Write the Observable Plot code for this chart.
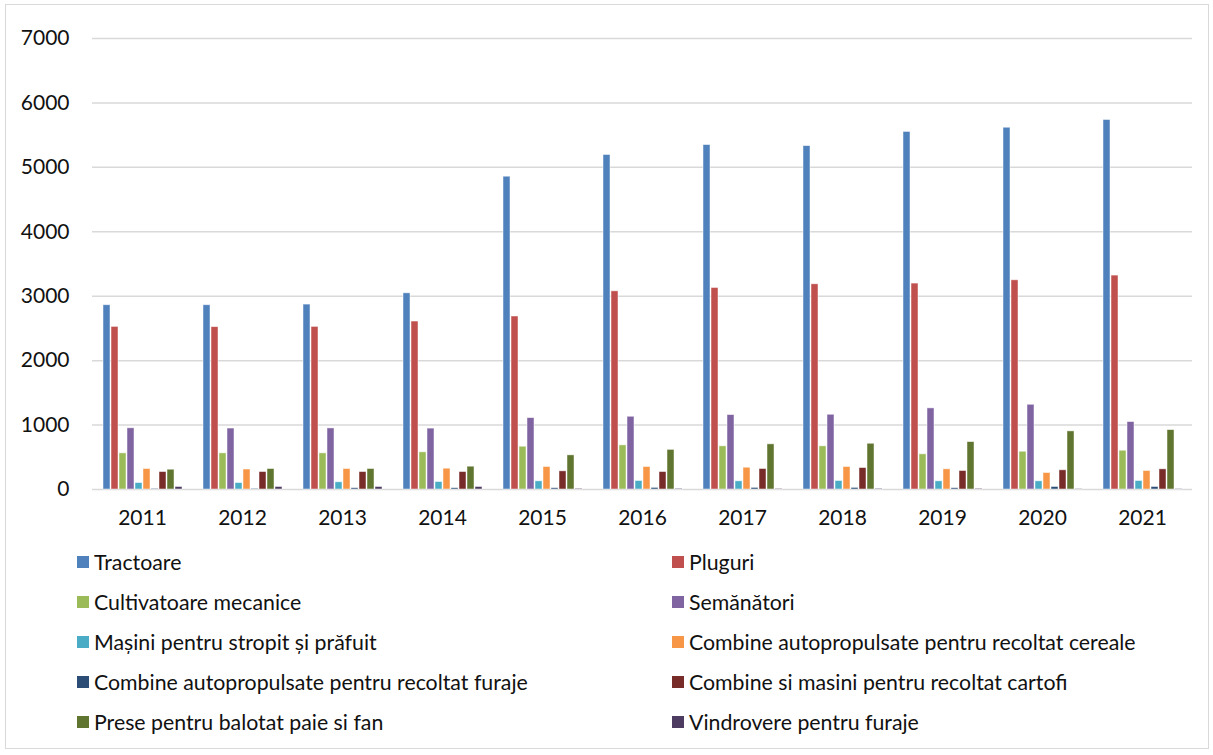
<!DOCTYPE html>
<html><head><meta charset="utf-8">
<script src="https://cdn.jsdelivr.net/npm/d3@7"></script>
<script src="https://cdn.jsdelivr.net/npm/@observablehq/plot@0.6"></script>
<style>
body{margin:0;background:#fff;font-family:Lato,"Open Sans",sans-serif;}
#frame{position:absolute;left:5px;top:4px;width:1204px;height:745px;border:1px solid #d9d9d9;box-sizing:border-box;}
#grid,#chart{position:absolute;left:0;top:0;}
.item{position:absolute;display:flex;align-items:center;font-size:21.3px;color:#111;white-space:nowrap;line-height:24px;}
.sw{width:12px;height:12px;margin-right:5px;flex:none;}
</style></head><body>
<div id="frame"></div><div id="grid"></div><div id="chart"></div><div id="legend"></div>
<script>
const years = ["2011","2012","2013","2014","2015","2016","2017","2018","2019","2020","2021"];
const series = ["Tractoare","Pluguri","Cultivatoare mecanice","Semănători","Mașini pentru stropit și prăfuit","Combine autopropulsate pentru recoltat cereale","Combine autopropulsate pentru recoltat furaje","Combine si masini pentru recoltat cartofi","Prese pentru balotat paie si fan","Vindrovere pentru furaje"];
const colors = ["#4F81BD","#C0504D","#9BBB59","#8064A2","#4BACC6","#F79646","#2C4D75","#772C2A","#5F7530","#4D3B62"];

const tractoare    = [2860,2860,2870,3045,4855,5192,5346,5330,5550,5615,5735];
const pluguri      = [2524,2520,2524,2607,2685,3076,3128,3185,3196,3247,3320];
const cultivatoare = [561,561,561,577,664,685,670,670,546,586,602];
const semanatori   = [950,946,948,945,1108,1129,1155,1160,1259,1315,1047];
const masini       = [100,100,112,116,127,132,127,132,127,127,132];
const cereale      = [318,310,318,323,349,349,338,349,313,256,287];
const furaje       = [10,10,20,20,20,25,25,25,20,39,39];
const cartofi      = [271,271,271,271,282,271,318,333,287,298,313];
const prese        = [307,318,318,354,530,615,701,710,736,902,922];
const vindrovere   = [39,39,39,39,12,12,10,12,12,5,5];

const values = [tractoare,pluguri,cultivatoare,semanatori,masini,cereale,furaje,cartofi,prese,vindrovere];
const rows = [];
years.forEach((y,i)=>series.forEach((s,j)=>rows.push({year:y, series:s, value:values[j][i]})));
const yTicks = d3.range(0,7001,1000);

const common = {
  width:1213, height:540,
  marginTop:38, marginBottom:51, marginLeft:92, marginRight:21,
  style:{fontFamily:"Lato, 'Open Sans', sans-serif", fontSize:"21px", color:"#111", background:"transparent"}
};

// Background: gridlines and value axis
const grid = Plot.plot({
  ...common,
  y:{domain:[0,7000], ticks:yTicks, label:null, tickSize:0, tickPadding:23, tickFormat:d=>String(d)},
  marks:[
    Plot.ruleY(yTicks, {stroke:"#d9d9d9", strokeWidth:1.5})
  ]
});
document.getElementById("grid").appendChild(grid);

// Foreground: grouped bars by year
const chart = Plot.plot({
  ...common,
  fx:{domain:years, paddingInner:0.14, paddingOuter:0.07, label:null, tickSize:0, tickPadding:21, axis:"bottom"},
  x:{domain:series, paddingInner:0.15, paddingOuter:0, axis:null},
  y:{domain:[0,7000], axis:null},
  color:{domain:series, range:colors},
  marks:[
    Plot.barY(rows, {fx:"year", x:"series", y:"value", fill:"series", stroke:"white", strokeWidth:0.8, strokeOpacity:0.6})
  ]
});
document.getElementById("chart").appendChild(chart);

const legend = document.getElementById("legend");
series.forEach((s,j)=>{
  const col = j%2, row = Math.floor(j/2);
  const d = document.createElement("div");
  d.className="item";
  d.style.left = (col===0?77:672)+"px";
  d.style.top = (562 + row*40 - 12)+"px";
  d.innerHTML = `<span class="sw" style="background:${colors[j]}"></span><span>${s}</span>`;
  legend.appendChild(d);
});
</script>
</body></html>
